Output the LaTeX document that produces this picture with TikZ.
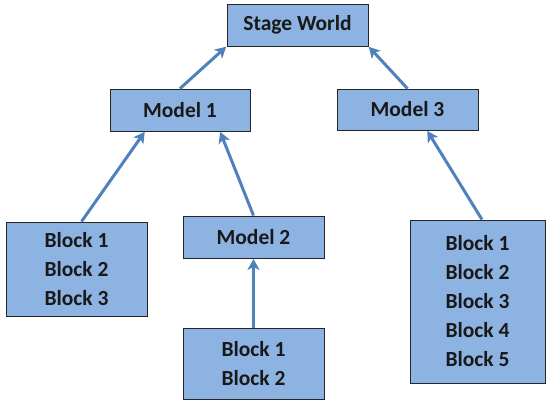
\documentclass[tikz,border=0pt]{standalone}
\usepackage{fontspec}
\setmainfont{Carlito}
\usetikzlibrary{arrows.meta}
\definecolor{boxfill}{HTML}{8DB3E2}
\definecolor{arrowblue}{HTML}{4F81BD}
\tikzset{
  box/.style={draw=black!85, line width=0.9pt, fill=boxfill, inner sep=0pt,
    font=\fontsize{21.5}{29}\selectfont\bfseries, align=center, text=black!90},
  link/.style={draw=arrowblue, line width=3pt, -{Stealth[length=11pt,width=12pt,inset=3pt]}, shorten >=0.5pt}
}
\begin{document}
\begin{tikzpicture}[x=1pt,y=-1pt]
\useasboundingbox (0,0) rectangle (547,401);
\node[box, minimum width=141pt, minimum height=42pt] (sw) at (297.5,25) {Stage World};
\node[box, minimum width=140pt, minimum height=42pt] (m1) at (180,110) {Model 1};
\node[box, minimum width=141pt, minimum height=41pt] (m3) at (407.5,109.5) {Model 3};
\node[box, minimum width=141pt, minimum height=42pt] (m2) at (253.5,237) {Model 2};
\node[box, minimum width=141pt, minimum height=94pt] (lb) at (76.5,269) {Block 1\\Block 2\\Block 3};
\node[box, minimum width=141pt, minimum height=71pt] (bb) at (253.5,363.5) {Block 1\\Block 2};
\node[box, minimum width=135pt, minimum height=163pt] (rb) at (477.5,301.5) {Block 1\\Block 2\\Block 3\\Block 4\\Block 5};
\draw[link] (m1.north) -- (sw.south west);
\draw[link] (m3.north) -- (sw.south east);
\draw[link] ([xshift=5pt]lb.north) -- ([xshift=-35pt]m1.south);
\draw[link] (m2.north) -- ([xshift=40pt]m1.south);
\draw[link] (bb.north) -- (m2.south);
\draw[link] ([xshift=4.5pt]rb.north) -- ([xshift=19.5pt]m3.south);
\end{tikzpicture}
\end{document}
